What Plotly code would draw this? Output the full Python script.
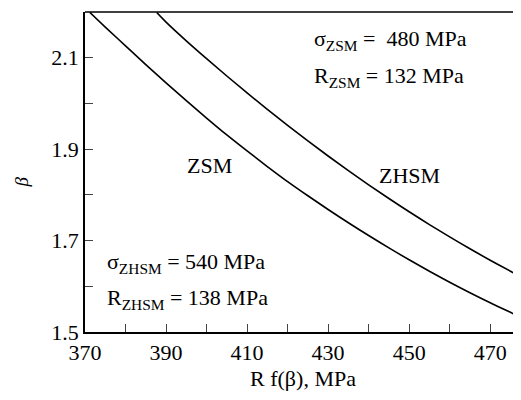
import plotly.graph_objects as go

# ZSM curve
zsm_x = [371.2, 375, 380, 385, 390, 395, 400, 405, 410, 415, 420, 425, 430, 435,
         440, 445, 450, 455, 460, 465, 470, 475, 477.6]
zsm_y = [2.199, 2.167, 2.126, 2.085, 2.045, 2.006, 1.968, 1.931, 1.896, 1.862, 1.829,
         1.798, 1.768, 1.739, 1.711, 1.684, 1.658, 1.633, 1.609, 1.586, 1.564, 1.543, 1.532]

# ZHSM curve
zhsm_x = [387.7, 390, 395, 400, 405, 410, 415, 420, 425, 430, 435, 440, 445, 450,
          455, 460, 465, 470, 475, 477.6]
zhsm_y = [2.199, 2.178, 2.137, 2.098, 2.060, 2.023, 1.987, 1.952, 1.918, 1.885, 1.853,
          1.822, 1.792, 1.763, 1.735, 1.708, 1.682, 1.657, 1.633, 1.621]

x_ticks = [370, 390, 410, 430, 450, 470]
y_ticks = [1.5, 1.7, 1.9, 2.1]

FONT = "Liberation Serif, Times New Roman, serif"

fig = go.Figure()
fig.add_trace(go.Scatter(x=zsm_x, y=zsm_y, mode="lines", line=dict(color="black", width=1.6, shape="spline"), showlegend=False))
fig.add_trace(go.Scatter(x=zhsm_x, y=zhsm_y, mode="lines", line=dict(color="black", width=1.6, shape="spline"), showlegend=False))

TS = 22
ann = [
    dict(x=394.7, y=1.864, text="ZSM"),
    dict(x=442.0, y=1.843, text="ZHSM"),
    dict(x=425.9, y=2.138, text="σ<sub>ZSM</sub> =  480 MPa"),
    dict(x=425.9, y=2.058, text="R<sub>ZSM</sub> = 132 MPa"),
    dict(x=374.9, y=1.652, text="σ<sub>ZHSM</sub> = 540 MPa"),
    dict(x=374.9, y=1.572, text="R<sub>ZHSM</sub> = 138 MPa"),
]
for a in ann:
    fig.add_annotation(x=a["x"], y=a["y"], text=a["text"], showarrow=False,
                       xanchor="left", yanchor="middle",
                       font=dict(family=FONT, size=TS, color="black"))

# y-axis title (rotated beta)
fig.add_annotation(xref="paper", yref="paper", x=-0.145, y=0.47, text="<i>β</i>",
                   showarrow=False, textangle=-90, xanchor="center", yanchor="middle",
                   font=dict(family=FONT, size=19, color="black"))

fig.update_layout(
    width=513, height=392,
    margin=dict(l=77, r=0, t=4, b=68),
    paper_bgcolor="white", plot_bgcolor="white",
    font=dict(family=FONT, size=TS, color="black"),
    xaxis=dict(range=[370, 477.6], tickvals=x_ticks, ticks="inside", ticklen=8, tickwidth=1.3,
               showline=True, linecolor="black", linewidth=1.6, mirror=False, showgrid=False, zeroline=False,
               minor=dict(dtick=10, tick0=370, ticks="inside", ticklen=8, tickwidth=1.3),
               title=dict(text="R f(β), MPa", font=dict(family=FONT, size=TS), standoff=6),
               tickfont=dict(family=FONT, size=TS)),
    yaxis=dict(range=[1.5, 2.2], tickvals=y_ticks, ticks="inside", ticklen=8, tickwidth=1.3,
               showline=True, linecolor="black", linewidth=1.6, showgrid=False, zeroline=False,
               minor=dict(dtick=0.1, tick0=1.5, ticks="inside", ticklen=8, tickwidth=1.3),
               tickfont=dict(family=FONT, size=TS)),
)
# top border line
fig.add_shape(type="line", xref="paper", yref="paper", x0=0, x1=1, y0=1, y1=1,
              line=dict(color="black", width=1.6))

fig.write_html("out.html")
